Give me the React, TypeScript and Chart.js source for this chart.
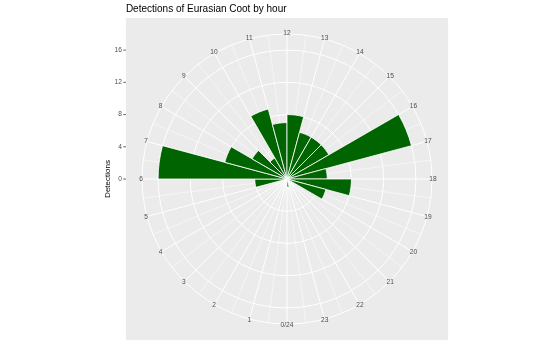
import React, { useEffect, useRef } from 'react';
import { Chart, registerables } from 'chart.js';

Chart.register(...registerables);

// ---- data ----
const hourLabels = ['0/24', '1', '2', '3', '4', '5', '6', '7', '8', '9', '10', '11', '12', '13', '14', '15', '16', '17', '18', '19', '20', '21', '22', '23'];
const detections = [0, 0, 0, 0, 0, 4, 16, 8, 5, 3, 9, 7, 8, 6, 6, 6, 16, 5, 8, 5, 0, 0, 0, 1];
const rBreaks = [0, 4, 8, 12, 16];
const rOuter = 18;
const titleText = 'Detections of Eurasian Coot by hour';
const yTitle = 'Detections';

const FONT = '"Liberation Sans", Arial, Helvetica, sans-serif';

const ggPolar = {
  id: 'ggPolar',
  beforeDraw(chart: any) {
    const s = chart.scales.r;
    const ctx = chart.ctx;
    const half = (s.drawingArea / 0.45) * 0.5;
    ctx.save();
    ctx.fillStyle = '#EBEBEB';
    ctx.fillRect(s.xCenter - half, s.yCenter - half, 2 * half, 2 * half);
    ctx.restore();
  },
  beforeDatasetsDraw(chart: any) {
    const s = chart.scales.r;
    const ctx = chart.ctx;
    const n = chart.data.labels.length;
    ctx.save();
    ctx.strokeStyle = '#FFFFFF';
    ctx.lineWidth = 0.5;
    for (let i = 0; i < n; i++) {
      const p = s.getPointPositionForValue(i + 0.5, rOuter);
      ctx.beginPath();
      ctx.moveTo(s.xCenter, s.yCenter);
      ctx.lineTo(p.x, p.y);
      ctx.stroke();
    }
    ctx.restore();
  },
  afterDraw(chart: any) {
    const s = chart.scales.r;
    const ctx = chart.ctx;
    const half = (s.drawingArea / 0.45) * 0.5;
    const panelLeft = s.xCenter - half;
    const panelTop = s.yCenter - half;
    ctx.save();
    // theta labels
    ctx.font = `6.6px ${FONT}`;
    ctx.fillStyle = '#4D4D4D';
    ctx.textAlign = 'center';
    ctx.textBaseline = 'middle';
    const labels = chart.data.labels;
    for (let i = 0; i < labels.length; i++) {
      const p = s.getPointPosition(i, s.drawingArea + 1);
      ctx.fillText(labels[i], p.x, p.y);
    }
    // r axis on the left
    ctx.textAlign = 'right';
    ctx.strokeStyle = '#333333';
    ctx.lineWidth = 0.8;
    for (const v of rBreaks) {
      const y = s.yCenter - s.getDistanceFromCenterForValue(v);
      ctx.fillText(String(v), panelLeft - 4, y);
      ctx.beginPath();
      ctx.moveTo(panelLeft - 2.5, y);
      ctx.lineTo(panelLeft, y);
      ctx.stroke();
    }
    // axis title
    ctx.save();
    ctx.translate(panelLeft - 18, s.yCenter);
    ctx.rotate(-Math.PI / 2);
    ctx.font = `8px ${FONT}`;
    ctx.fillStyle = '#000000';
    ctx.textAlign = 'center';
    ctx.textBaseline = 'middle';
    ctx.fillText(yTitle, 0, 0);
    ctx.restore();
    // title
    ctx.font = `10px ${FONT}`;
    ctx.fillStyle = '#000000';
    ctx.textAlign = 'left';
    ctx.textBaseline = 'alphabetic';
    ctx.fillText(titleText, panelLeft, panelTop - 5.5);
    ctx.restore();
  },
};

export default function App() {
  const ref = useRef<HTMLCanvasElement | null>(null);
  useEffect(() => {
    if (!ref.current) return;
    const chart = new Chart(ref.current, {
      type: 'polarArea',
      data: {
        labels: hourLabels,
        datasets: [
          {
            data: detections,
            backgroundColor: '#006400',
            borderColor: '#FFFFFF',
            borderWidth: 0.8,
          },
        ],
      },
      options: {
        animation: false,
        responsive: false,
        devicePixelRatio: 1,
        events: [],
        layout: { padding: { left: 142, right: 121, top: 34, bottom: 36 } },
        plugins: { legend: { display: false }, tooltip: { enabled: false }, title: { display: false } },
        scales: {
          r: {
            type: 'radialLinear',
            min: 0,
            max: rOuter,
            startAngle: 180,
            ticks: { display: false },
            afterBuildTicks: (scale: any) => {
              scale.ticks = [...rBreaks, rOuter].map((v) => ({ value: v }));
            },
            grid: { circular: true, color: '#FFFFFF', lineWidth: 1 },
            angleLines: { display: true, color: '#FFFFFF', lineWidth: 1 },
            pointLabels: { display: false },
          },
        },
      },
      plugins: [ggPolar],
    } as any);
    return () => chart.destroy();
  }, []);
  return (
    <div style={{ position: 'fixed', left: 0, top: 0, width: 553, height: 360, background: '#FFFFFF' }}>
      <canvas ref={ref} width={553} height={360} style={{ display: 'block', width: 553, height: 360 }} />
    </div>
  );
}
